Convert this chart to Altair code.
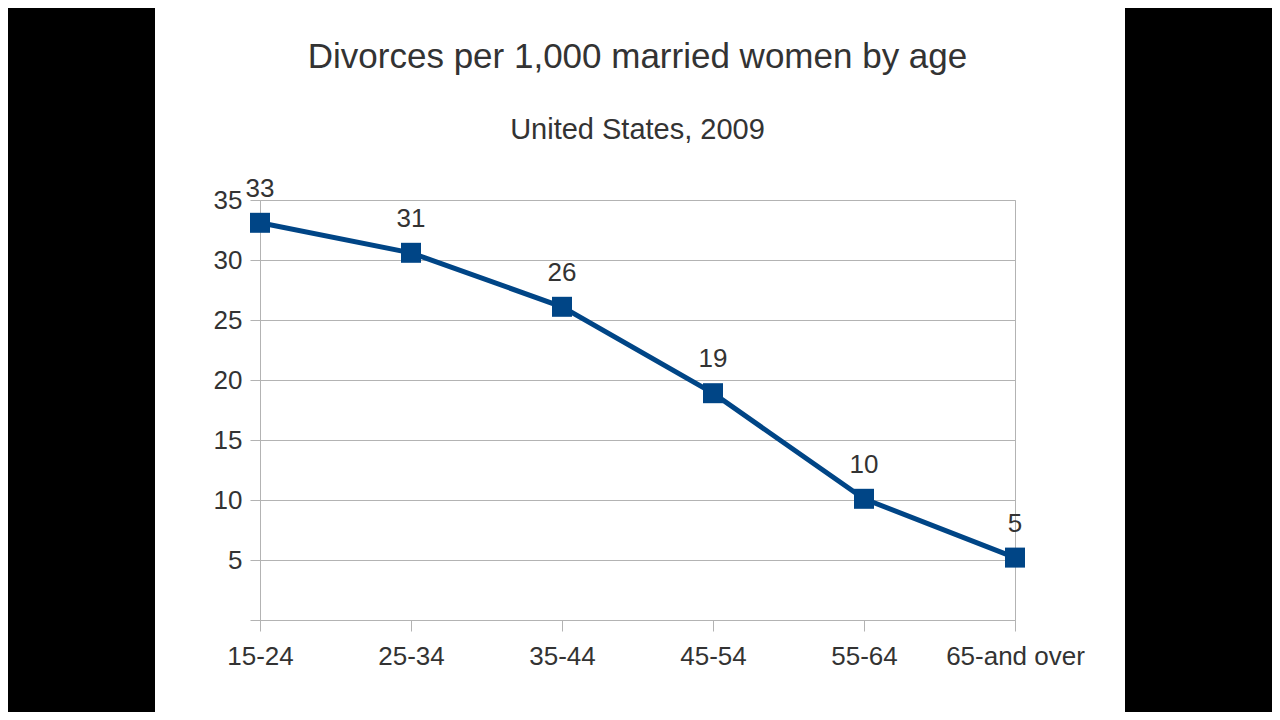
import altair as alt
import pandas as pd

ages = ["15-24", "25-34", "35-44", "45-54", "55-64", "65-and over"]
rates = [33.1, 30.6, 26.1, 18.9, 10.1, 5.2]
labels = ["33", "31", "26", "19", "10", "5"]
y_ticks = [0, 5, 10, 15, 20, 25, 30, 35]

df = pd.DataFrame({"age": ages, "rate": rates, "label": labels})

FONT = "Liberation Sans"
TXT = "#333333"
GRID = "#b3b3b3"
BLUE = "#004586"

x = alt.X(
    "age:N", sort=ages,
    scale=alt.Scale(type="point", padding=0),
    axis=alt.Axis(title=None, labelAngle=0, labelFontSize=26, labelFont=FONT,
                  labelColor=TXT, labelPadding=12, tickSize=11, tickColor=GRID,
                  domainColor=GRID, grid=False),
)
y = alt.Y(
    "rate:Q",
    scale=alt.Scale(domain=[0, 35], nice=False),
    axis=alt.Axis(title=None, values=y_ticks,
                  labelExpr="datum.value == 0 ? '' : datum.label",
                  labelFontSize=26, labelFont=FONT, labelColor=TXT,
                  labelPadding=8, tickSize=10, tickColor=GRID,
                  domainColor=GRID, gridColor=GRID, grid=True),
)

base = alt.Chart(df)
line = base.mark_line(color=BLUE, strokeWidth=5).encode(x=x, y=y)
pts = base.mark_square(size=400, color=BLUE, opacity=1).encode(x=x, y=y)
txt = base.mark_text(dy=-34, fontSize=26, font=FONT, color=TXT).encode(
    x=x, y=y, text="label:N")

one = pd.DataFrame({"k": [0]})
left_black = alt.Chart(one).mark_rect(color="black").encode(
    x=alt.value(-252), x2=alt.value(-105), y=alt.value(-192), y2=alt.value(512))
right_black = alt.Chart(one).mark_rect(color="black").encode(
    x=alt.value(865), x2=alt.value(1012), y=alt.value(-192), y2=alt.value(512))

chart = alt.layer(left_black, right_black, line, pts, txt).properties(
    width=755, height=420,
    autosize=alt.AutoSizeParams(type="none"),
    padding={"left": 252, "top": 192, "right": 257, "bottom": 92},
    title=alt.Title(
        text="Divorces per 1,000 married women by age",
        subtitle="United States, 2009",
        fontSize=35, subtitleFontSize=29, font=FONT, subtitleFont=FONT,
        fontWeight="normal", color=TXT, subtitleColor=TXT,
        anchor="middle", frame="group", offset=-137, subtitlePadding=41,
    ),
).configure(background="white").configure_view(stroke=GRID, strokeWidth=1)

chart.save("out.html", embed_options={"renderer": "svg", "actions": False})
